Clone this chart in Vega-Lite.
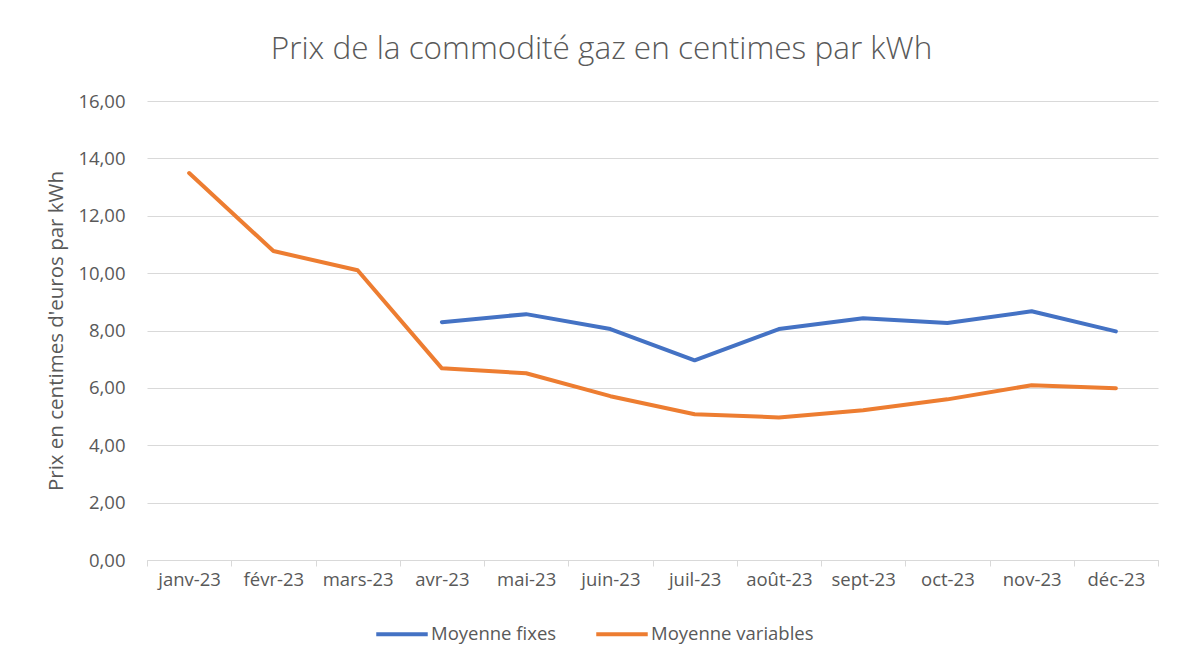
{
  "$schema": "https://vega.github.io/schema/vega-lite/v6.json",
  "autosize": {"type": "none"},
  "padding": {"left": 147, "top": 101, "right": 23, "bottom": 107},
  "width": 1011,
  "height": 459,
  "background": "white",
  "title": {
    "text": "Prix de la commodité gaz en centimes par kWh",
    "font": "Open Sans",
    "fontSize": 31.5,
    "fontWeight": 300,
    "color": "#595959",
    "anchor": "middle",
    "dx": -51,
    "offset": 27
  },
  "data": {
    "values": [
      {"mois": "janv-23", "serie": "Moyenne variables", "prix": 13.49},
      {"mois": "févr-23", "serie": "Moyenne variables", "prix": 10.77},
      {"mois": "mars-23", "serie": "Moyenne variables", "prix": 10.10},
      {"mois": "avr-23", "serie": "Moyenne variables", "prix": 6.68},
      {"mois": "mai-23", "serie": "Moyenne variables", "prix": 6.51},
      {"mois": "juin-23", "serie": "Moyenne variables", "prix": 5.71},
      {"mois": "juil-23", "serie": "Moyenne variables", "prix": 5.08},
      {"mois": "août-23", "serie": "Moyenne variables", "prix": 4.97},
      {"mois": "sept-23", "serie": "Moyenne variables", "prix": 5.22},
      {"mois": "oct-23", "serie": "Moyenne variables", "prix": 5.60},
      {"mois": "nov-23", "serie": "Moyenne variables", "prix": 6.09},
      {"mois": "déc-23", "serie": "Moyenne variables", "prix": 5.99},
      {"mois": "avr-23", "serie": "Moyenne fixes", "prix": 8.29},
      {"mois": "mai-23", "serie": "Moyenne fixes", "prix": 8.57},
      {"mois": "juin-23", "serie": "Moyenne fixes", "prix": 8.05},
      {"mois": "juil-23", "serie": "Moyenne fixes", "prix": 6.96},
      {"mois": "août-23", "serie": "Moyenne fixes", "prix": 8.05},
      {"mois": "sept-23", "serie": "Moyenne fixes", "prix": 8.43},
      {"mois": "oct-23", "serie": "Moyenne fixes", "prix": 8.26},
      {"mois": "nov-23", "serie": "Moyenne fixes", "prix": 8.67},
      {"mois": "déc-23", "serie": "Moyenne fixes", "prix": 7.97}
    ]
  },
  "mark": {"type": "line", "strokeWidth": 4, "strokeCap": "round", "strokeJoin": "round"},
  "encoding": {
    "x": {
      "field": "mois",
      "type": "ordinal",
      "sort": ["janv-23", "févr-23", "mars-23", "avr-23", "mai-23", "juin-23", "juil-23", "août-23", "sept-23", "oct-23", "nov-23", "déc-23"],
      "scale": {"type": "band", "paddingInner": 0, "paddingOuter": 0},
      "axis": {
        "title": null,
        "labelAngle": 0,
        "labelFont": "Open Sans",
        "labelFontSize": 18.5,
        "labelColor": "#595959",
        "labelPadding": 4,
        "domainColor": "#D9D9D9",
        "tickColor": "#D9D9D9",
        "tickSize": 6,
        "tickBand": "extent",
        "grid": false
      }
    },
    "y": {
      "field": "prix",
      "type": "quantitative",
      "scale": {"domain": [0, 16], "nice": false},
      "axis": {
        "title": "Prix en centimes d'euros par kWh",
        "titleFont": "Open Sans",
        "titleFontSize": 20.5,
        "titleFontWeight": "normal",
        "titleColor": "#595959",
        "titlePadding": 11,
        "values": [0, 2, 4, 6, 8, 10, 12, 14, 16],
        "labelExpr": "replace(format(datum.value, '.2f'), '.', ',')",
        "labelFont": "Open Sans",
        "labelFontSize": 18.5,
        "labelColor": "#595959",
        "labelPadding": 22,
        "domain": false,
        "ticks": false,
        "grid": true,
        "gridColor": "#D9D9D9",
        "gridWidth": 1
      }
    },
    "color": {
      "field": "serie",
      "type": "nominal",
      "scale": {"domain": ["Moyenne fixes", "Moyenne variables"], "range": ["#4472C4", "#ED7D31"]},
      "legend": {
        "title": null,
        "orient": "none",
        "direction": "horizontal",
        "legendX": 227,
        "legendY": 505,
        "symbolType": "stroke",
        "symbolSize": 2650,
        "symbolStrokeWidth": 4,
        "labelFont": "Open Sans",
        "labelFontSize": 18.5,
        "labelColor": "#595959",
        "labelOffset": 1,
        "labelLimit": 400,
        "columnPadding": 31
      }
    }
  },
  "config": {"view": {"stroke": null}}
}
